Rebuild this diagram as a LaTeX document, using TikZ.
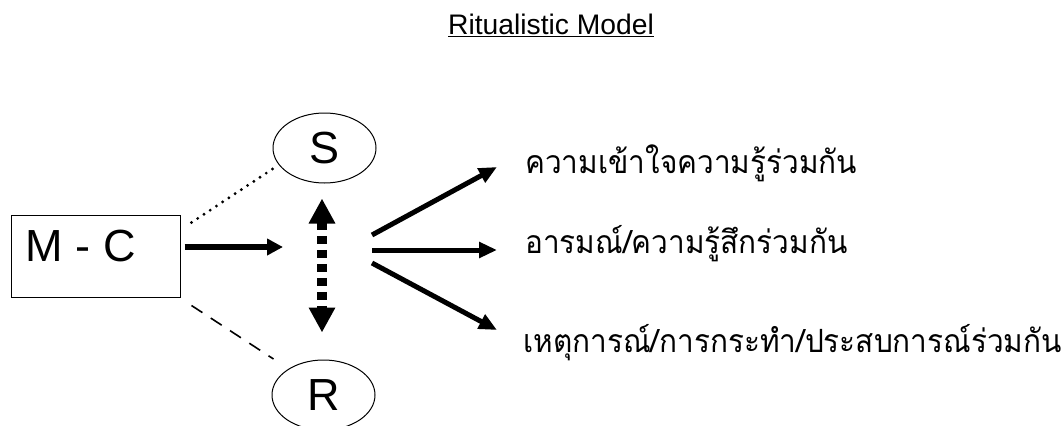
\documentclass[tikz,border=0pt]{standalone}
\usepackage{fontspec}
\setmainfont{Liberation Sans}
\newfontfamily\thaifont[Script=Thai,FakeStretch=0.93]{Loma}
\usetikzlibrary{arrows.meta,shapes.geometric}

\tikzset{
  big/.style={font=\fontsize{33.75}{40}\selectfont},
  thai/.style={font=\thaifont\fontsize{24}{28}\selectfont, anchor=base west, inner sep=0pt},
  party/.style={draw, ellipse, line width=0.75pt, inner sep=0pt,
                minimum width=77.25pt, minimum height=52.5pt, big},
  fatarrow/.style={line width=3.75pt, -{Triangle[length=13.5pt,width=11.5pt]}},
}

\begin{document}
\begin{tikzpicture}[x=0.75pt, y=-0.75pt]
  \useasboundingbox (0,0) rectangle (1064,425);

  \node [anchor=base, font=\fontsize{21.2}{25}\selectfont] (title) at (551,34)
        {\underline{Ritualistic Model}};

  % message / channel box
  \node [draw, line width=0.75pt, inner sep=0pt,
         minimum width=126.75pt, minimum height=61.5pt] (mc) at (95.5,256) {};
  \node [big, anchor=base west, inner sep=0pt] (mclabel)
        at ([shift={(15,47)}]mc.north west) {M - C};

  % sender and receiver
  \node [party] (s) at (324.5,148) {S};
  \node [party] (r) at (323.5,395) {R};

  \draw [line width=2.4pt, line cap=round, dash pattern=on 0pt off 5.6pt]
        ([shift={(11,8)}]mc.north east) -- ([shift={(0,21)}]s.west);
  \draw [line width=1.2pt, dash pattern=on 9.75pt off 7.5pt]
        ([shift={(11,8)}]mc.south east) -- ([shift={(2,-36)}]r.west);

  \draw [line width=4.25pt, -{Triangle[length=12pt,width=12pt]}]
        ([shift={(4,-9)}]mc.east) -- (283,247) coordinate (hub);

  % S <-> R
  \draw [line width=7.5pt, dash pattern=on 6pt off 4.5pt,
         {Triangle[length=18.75pt,width=18.75pt]}-{Triangle[length=18.75pt,width=18.75pt]}]
        ([shift={(-2.5,15)}]s.south) -- ([shift={(-1.5,-27)}]r.north);

  % shared outcomes
  \node [thai] (t1) at (525,173) {ความเข้าใจความรู้ร่วมกัน};
  \node [thai] (t2) at (525,253) {อารมณ์/ความรู้สึกร่วมกัน};
  \node [thai] (t3) at (523,352) {เหตุการณ์/การกระทำ/ประสบการณ์ร่วมกัน};

  \coordinate (fan) at ([shift={(89,3)}]hub);
  \draw [fatarrow] ([shift={(0,-15)}]fan) -- ([shift={(-28,-6)}]t1.base west);
  \draw [fatarrow] (fan) -- ([shift={(-28,-3)}]t2.base west);
  \draw [fatarrow] ([shift={(0,13)}]fan) -- ([shift={(-26,-22)}]t3.base west);

\end{tikzpicture}
\end{document}
